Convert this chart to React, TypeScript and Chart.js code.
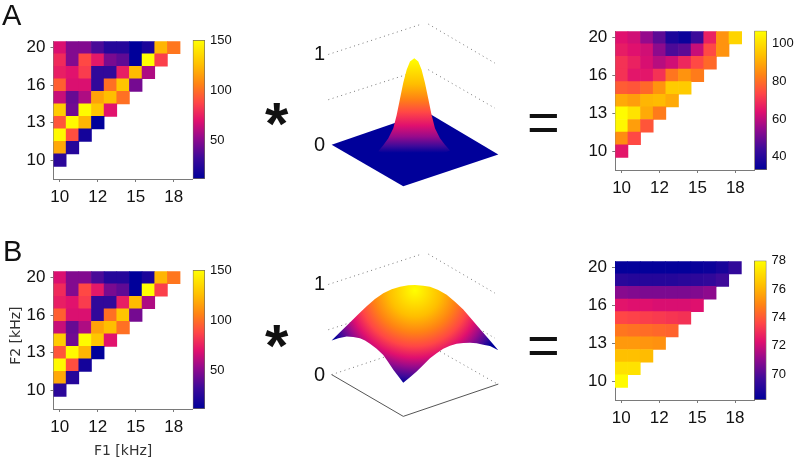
import React, { useEffect, useRef } from "react";
import { Chart, registerables } from "chart.js";

Chart.register(...registerables);

// ---- data ----
const f1Labels = ["10", "12", "15", "18"];
const f2Labels = ["10", "13", "16", "20"];
const tickIndex = [0, 3, 6, 9];

// Rows run from the top of the triangle (F2 = 20) down to F2 = 10.
const inputRows = [
  [68, 48, 48, 35, 24, 24, 11, 20, 122, 102],
  [78, 48, 88, 72, 46, 40, 11, 150, 85],
  [74, 70, 84, 28, 28, 74, 124, 58],
  [95, 68, 68, 28, 100, 128, 45],
  [64, 42, 58, 116, 125, 100],
  [130, 44, 148, 128, 70],
  [92, 148, 122, 11],
  [148, 90, 18],
  [118, 24],
  [26],
];
const outputRowsA = [
  [64, 62, 55, 48, 38, 35, 44, 67, 86, 98],
  [66, 64, 62, 54, 46, 48, 61, 74, 86],
  [70, 67, 63, 59, 62, 68, 74, 79],
  [70, 65, 65, 70, 81, 86, 82],
  [77, 76, 79, 86, 96, 96],
  [90, 88, 92, 93, 90],
  [106, 101, 90, 82],
  [105, 88, 76],
  [85, 74],
  [65],
];
const outputRowsB = [
  [68.3, 68.3, 68.3, 68.3, 68.3, 68.3, 68.4, 68.5, 68.8, 69.4],
  [69.2, 69.1, 69.1, 69.1, 69.1, 69.2, 69.3, 69.4, 69.7],
  [70.9, 70.8, 70.7, 70.7, 70.7, 70.7, 70.8, 71.0],
  [72.4, 72.3, 72.3, 72.2, 72.2, 72.2, 72.3],
  [73.6, 73.5, 73.4, 73.3, 73.2, 73.1],
  [74.6, 74.5, 74.4, 74.3, 74.2],
  [75.4, 75.4, 75.3, 75.2],
  [76.3, 76.3, 76.2],
  [77.2, 77.2],
  [77.9],
];

const inputScale = { min: 11, max: 150, ticks: [50, 100, 150] };
const outputScaleA = { min: 33, max: 106.7, ticks: [40, 60, 80, 100] };
const outputScaleB = { min: 68.2, max: 78, ticks: [70, 72, 74, 76, 78] };

const colormap = ["#00009a", "#3c0a9a", "#960a8c", "#e0106e", "#ff4646", "#ff8214", "#ffbe00", "#ffff00"];
const colormapAt = [0, 0.15, 0.3, 0.42, 0.55, 0.68, 0.82, 1];
const narrowShadeAt = [0, 0.07, 0.17, 0.29, 0.43, 0.57, 0.73, 1];
const wideShadeAt = [1, 0.93, 0.82, 0.72, 0.6, 0.45, 0.28, 0];

// Kernel outlines: x in normalized frequency, y in kernel weight.
const gaussianNarrow = [
  [-0.442, -0.068], [-0.382, -0.004], [-0.321, 0.075], [-0.261, 0.183], [-0.221, 0.326],
  [-0.181, 0.505], [-0.141, 0.685], [-0.1, 0.828], [-0.06, 0.918], [-0.008, 0.953],
  [0.04, 0.918], [0.08, 0.828], [0.12, 0.685], [0.161, 0.505], [0.201, 0.326],
  [0.241, 0.183], [0.301, 0.075], [0.361, 0.004], [0.422, -0.061], [0.221, -0.14],
  [-0.02, -0.168], [-0.261, -0.14],
];
const gaussianWide = [
  [-1.004, 0.38], [-0.904, 0.47], [-0.783, 0.577], [-0.683, 0.667], [-0.582, 0.756],
  [-0.482, 0.835], [-0.382, 0.9], [-0.281, 0.943], [-0.181, 0.971], [-0.08, 0.986],
  [0, 0.989], [0.1, 0.982], [0.181, 0.971], [0.281, 0.935], [0.382, 0.882],
  [0.482, 0.806], [0.582, 0.72], [0.683, 0.613], [0.783, 0.505], [0.896, 0.387],
  [1.004, 0.272], [0.904, 0.319], [0.823, 0.333], [0.743, 0.348], [0.663, 0.355],
  [0.582, 0.351], [0.502, 0.344], [0.422, 0.323], [0.341, 0.29], [0.261, 0.24],
  [0.181, 0.183], [0.1, 0.111], [0.02, 0.039], [-0.06, -0.025], [-0.141, -0.086],
  [-0.201, -0.014], [-0.261, 0.057], [-0.321, 0.14], [-0.382, 0.219], [-0.462, 0.29],
  [-0.542, 0.344], [-0.602, 0.38], [-0.663, 0.405], [-0.743, 0.419], [-0.823, 0.423],
  [-0.924, 0.405],
];
const widePeak = [0, 0.93];
const wideFrontCorner = [-0.141, -0.086];
const floorPlane = [[-1.004, 0.004], [0.141, 0.362], [1.004, -0.104], [-0.141, -0.455]];
const floorFront = [[-1.004, 0.004], [-0.141, -0.455], [1.004, -0.1]];
const gridLeftTop = [[-1.044, 0.996], [0.08, 1.33]];
const gridRightTop = [[0.161, 1.33], [0.964, 0.9]];
const gridLeftMid = [[-1.044, 0.498], [0.08, 0.828]];
const gridRightMid = [[0.161, 0.828], [0.964, 0.405]];
const gridLeftLow = [[-1.004, 0.004], [0.08, 0.333]];
const gridRightLow = [[0.161, 0.333], [1.004, -0.104]];

// ---- helpers ----
const hexRgb = (h: string) => [1, 3, 5].map((i) => parseInt(h.slice(i, i + 2), 16));
function colorAt(f: number) {
  const t = Math.max(0, Math.min(1, f));
  let i = 0;
  while (i < colormapAt.length - 2 && t > colormapAt[i + 1]) i++;
  const k = (t - colormapAt[i]) / (colormapAt[i + 1] - colormapAt[i]);
  const a = hexRgb(colormap[i]);
  const b = hexRgb(colormap[i + 1]);
  return `rgb(${a.map((v, j) => Math.round(v + (b[j] - v) * k)).join(",")})`;
}
const addStops = (g: CanvasGradient, at: number[]) => {
  colormap.forEach((c, i) => g.addColorStop(at[i], c));
  return g;
};
const points = (a: number[][]) => a.map(([x, y]) => ({ x, y }));
const base = { responsive: false, animation: false as const, events: [] as any[] };
const quiet = { legend: { display: false }, tooltip: { enabled: false }, title: { display: false } };
const AXIS = "#7a7a7a";
const TICK_FONT = { family: '"Liberation Sans"', size: 17 };

function fixedTicks(values: number[], labels?: string[]) {
  return {
    afterBuildTicks: (axis: any) => {
      axis.ticks = values.map((value) => ({ value }));
    },
    callback: (_: any, i: number) => (labels ? labels[i] : String(values[i])),
  };
}

type Box = { l: number; t: number; r: number; b: number };
type Spec = { left: number; top: number; width: number; height: number; config: () => any };

function heatSpec(rows: number[][], scale: any, box: Box, canvasLeft: number, canvasBottom: number, titles = false): Spec {
  const top = Math.floor(box.t) - 14;
  const right = Math.ceil(box.r) + 6;
  const cells: any[] = [];
  const colors: string[] = [];
  rows.forEach((row, k) =>
    row.forEach((v, col) => {
      const level = rows.length - 1 - k;
      cells.push({ x: col, y: [level - 0.5, level + 0.5] });
      colors.push(colorAt((v - scale.min) / (scale.max - scale.min)));
    })
  );
  const xt = fixedTicks(tickIndex, f1Labels);
  const yt = fixedTicks(tickIndex, f2Labels);
  const tl = (font: any) => ({ font, color: "#111", autoSkip: false, maxRotation: 0, minRotation: 0 });
  return {
    left: canvasLeft,
    top,
    width: right - canvasLeft,
    height: canvasBottom - top,
    config: () => ({
      type: "bar",
      data: {
        datasets: [
          { data: cells, backgroundColor: colors, borderWidth: 0, barPercentage: 1, categoryPercentage: 1 },
        ],
      },
      options: {
        ...base,
        plugins: quiet,
        layout: { padding: { top: box.t - top, right: right - box.r, left: 0, bottom: 0 } },
        scales: {
          x: {
            type: "linear",
            min: -0.5,
            max: 10.5,
            offset: false,
            afterBuildTicks: xt.afterBuildTicks,
            afterFit: (s: any) => {
              s.height = canvasBottom - box.b;
            },
            ticks: { ...tl(TICK_FONT), padding: 5, callback: xt.callback },
            grid: { drawOnChartArea: false, offset: false, color: AXIS, tickLength: 3 },
            border: { color: AXIS },
            title: {
              display: titles,
              text: "F1 [kHz]",
              align: "center",
              padding: 0,
              color: "#333",
              font: { family: '"DejaVu Sans"', size: 14 },
            },
          },
          y: {
            type: "linear",
            min: -1.5,
            max: 9.5,
            afterBuildTicks: yt.afterBuildTicks,
            afterFit: (s: any) => {
              s.width = box.l - canvasLeft;
            },
            ticks: { ...tl(TICK_FONT), padding: 5, callback: yt.callback },
            grid: { drawOnChartArea: false, color: AXIS, tickLength: 3 },
            border: { color: AXIS },
            title: {
              display: titles,
              text: "  F2 [kHz]",
              padding: 0,
              color: "#333",
              font: { family: '"DejaVu Sans"', size: 14 },
            },
          },
        },
      },
    }),
  };
}

function barSpec(scale: any, l: number, r: number, t: number, b: number): Spec {
  const left = Math.floor(l) - 1;
  const top = Math.floor(t) - 14;
  const right = Math.ceil(r) + 32;
  const bottom = Math.ceil(b) + 14;
  const yt = fixedTicks(scale.ticks);
  return {
    left,
    top,
    width: right - left,
    height: bottom - top,
    config: () => ({
      type: "bar",
      data: {
        labels: ["scale"],
        datasets: [
          {
            data: [[scale.min, scale.max]],
            barPercentage: 1,
            categoryPercentage: 1,
            borderWidth: 1,
            borderSkipped: false,
            borderColor: "rgba(70,55,40,0.75)",
            backgroundColor: (c: any) => {
              const a = c.chart.chartArea;
              if (!a) return colormap[0];
              return addStops(c.chart.ctx.createLinearGradient(0, a.bottom, 0, a.top), colormapAt);
            },
          },
        ],
      },
      options: {
        ...base,
        plugins: quiet,
        layout: { padding: { top: t - top, bottom: bottom - b, left: l - left, right: 0 } },
        scales: {
          x: { display: false },
          y: {
            position: "right",
            min: scale.min,
            max: scale.max,
            afterBuildTicks: yt.afterBuildTicks,
            afterFit: (s: any) => {
              s.width = right - r;
            },
            ticks: { font: { family: '"Liberation Sans"', size: 13 }, color: "#111", padding: 5, callback: yt.callback },
            grid: { display: false, drawTicks: false, tickLength: 0 },
            border: { display: false },
          },
        },
      },
    }),
  };
}

const dottedLine = (a: number[][]) => ({
  data: points(a),
  showLine: true,
  pointRadius: 0,
  borderColor: "#777",
  borderWidth: 1,
  borderDash: [1, 3.5],
  order: 5,
  fill: false,
});

function kernelSpec(top: number, front: any[]): Spec {
  return {
    left: 300,
    top,
    width: 210,
    height: 200,
    config: () => ({
      type: "scatter",
      data: {
        datasets: [
          ...front,
          dottedLine(gridLeftTop),
          dottedLine(gridRightTop),
          dottedLine(gridLeftMid),
          dottedLine(gridRightMid),
        ],
      },
      options: {
        ...base,
        plugins: quiet,
        layout: { padding: { top: 12, bottom: 10, left: 0, right: 0 } },
        scales: {
          x: { type: "linear", display: false, min: -1.072, max: 1.145 },
          y: {
            type: "linear",
            min: -0.462,
            max: 1.452,
            afterBuildTicks: (axis: any) => {
              axis.ticks = [{ value: 0 }, { value: 1 }];
            },
            afterFit: (s: any) => {
              s.width = 26;
            },
            ticks: {
              font: { family: '"Liberation Sans"', size: 20 },
              color: "#111",
              padding: 1,
              callback: (v: any) => String(v),
            },
            grid: { display: false, drawTicks: false, tickLength: 0 },
            border: { display: false },
          },
        },
      },
    }),
  };
}

const shape = (a: number[][], backgroundColor: any, order: number) => ({
  data: points([...a, a[0]]),
  showLine: true,
  pointRadius: 0,
  borderWidth: 0,
  fill: "shape",
  backgroundColor,
  order,
});

const narrowFill = (c: any) => {
  const { scales, ctx, chartArea } = c.chart;
  if (!chartArea) return colormap[7];
  return addStops(
    ctx.createLinearGradient(0, scales.y.getPixelForValue(-0.086), 0, scales.y.getPixelForValue(0.95)),
    narrowShadeAt
  );
};
const wideFill = (c: any) => {
  const { scales, ctx, chartArea } = c.chart;
  if (!chartArea) return colormap[7];
  const px = scales.x.getPixelForValue(widePeak[0]);
  const py = scales.y.getPixelForValue(widePeak[1]);
  const cx = scales.x.getPixelForValue(wideFrontCorner[0]);
  const cy = scales.y.getPixelForValue(wideFrontCorner[1]);
  return addStops(ctx.createRadialGradient(px, py, 0, px, py, Math.hypot(px - cx, py - cy)), wideShadeAt);
};

const specs: Spec[] = [
  heatSpec(inputRows, inputScale, { l: 53.5, t: 40, r: 192.7, b: 179 }, 8, 212),
  barSpec(inputScale, 192.7, 205, 40, 179),
  kernelSpec(0, [shape(gaussianNarrow, narrowFill, 0), shape(floorPlane, "#00009a", 1)]),
  heatSpec(outputRowsA, outputScaleA, { l: 615.3, t: 30.7, r: 754.3, b: 170 }, 570, 203),
  barSpec(outputScaleA, 754.3, 767, 30.7, 170),
  heatSpec(inputRows, inputScale, { l: 53.5, t: 270, r: 192.7, b: 409 }, 8, 460, true),
  barSpec(inputScale, 192.7, 205, 270, 409),
  kernelSpec(230, [
    shape(gaussianWide, wideFill, 0),
    {
      data: points(floorFront),
      showLine: true,
      pointRadius: 0,
      borderColor: "#555",
      borderWidth: 1,
      order: 1,
      fill: false,
    },
    dottedLine(gridLeftLow),
    dottedLine(gridRightLow),
  ]),
  heatSpec(outputRowsB, outputScaleB, { l: 615, t: 260.5, r: 754, b: 400 }, 570, 433),
  barSpec(outputScaleB, 754, 766.5, 260.5, 400),
];

const marks = [
  { text: "A", left: 2, top: 0.5, size: 29, weight: 400 },
  { text: "B", left: 3, top: 236.5, size: 29, weight: 400 },
  { text: "*", left: 265, top: 94, size: 60, weight: 700 },
  { text: "*", left: 265, top: 316, size: 60, weight: 700 },
  { text: "=", left: 527, top: 94, size: 56, weight: 400 },
  { text: "=", left: 527, top: 317, size: 56, weight: 400 },
];

function Panel({ spec }: { spec: Spec }) {
  const ref = useRef<HTMLCanvasElement>(null);
  useEffect(() => {
    const chart = new Chart(ref.current as HTMLCanvasElement, spec.config());
    return () => chart.destroy();
  }, [spec]);
  return (
    <canvas
      ref={ref}
      width={spec.width}
      height={spec.height}
      style={{ position: "absolute", left: spec.left, top: spec.top, width: spec.width, height: spec.height }}
    />
  );
}

export default function App() {
  return (
    <div
      style={{
        position: "absolute",
        left: 0,
        top: 0,
        width: 800,
        height: 461,
        overflow: "hidden",
        background: "#fff",
        filter: "blur(0.4px)",
      }}
    >
      {specs.map((s, i) => (
        <Panel key={i} spec={s} />
      ))}
      {marks.map((m, i) => (
        <div
          key={i}
          style={{
            position: "absolute",
            left: m.left,
            top: m.top,
            fontFamily: '"Liberation Sans"',
            fontSize: m.size,
            fontWeight: m.weight,
            lineHeight: 1,
            color: "#111",
          }}
        >
          {m.text}
        </div>
      ))}
    </div>
  );
}
